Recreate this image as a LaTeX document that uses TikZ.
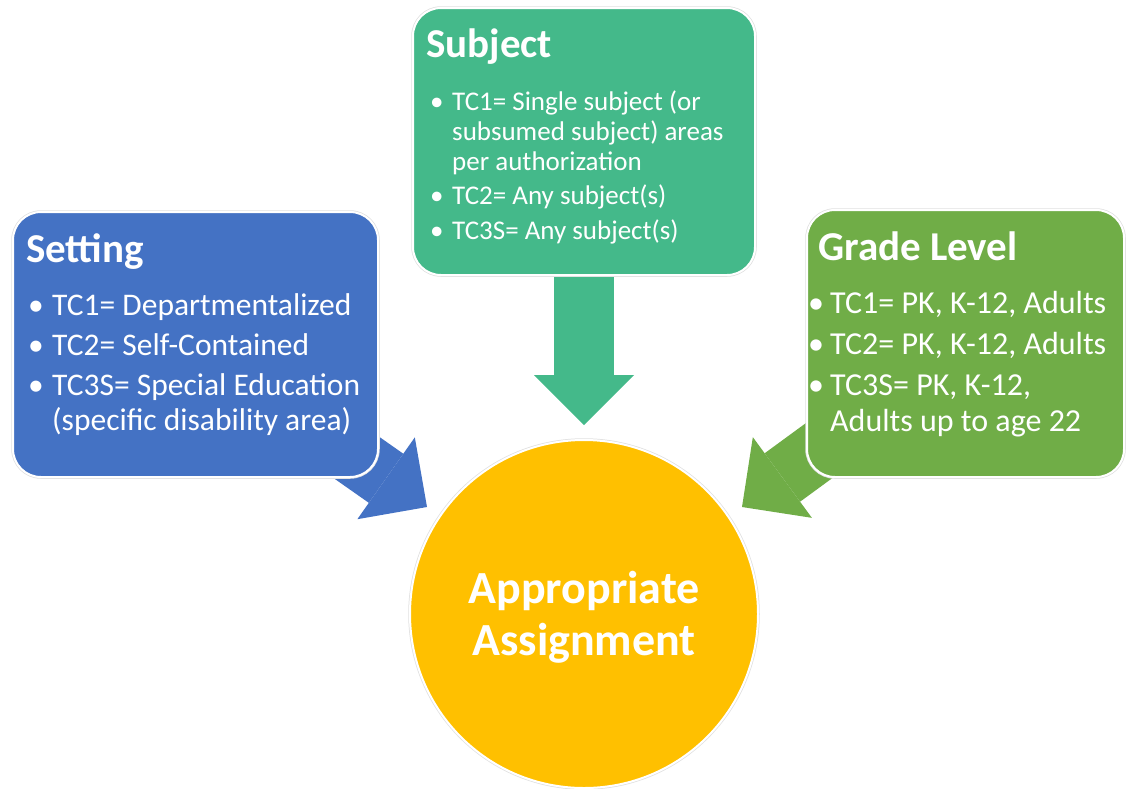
\documentclass[tikz,border=0pt]{standalone}
\usepackage{fontspec}
\setmainfont{Carlito}
\usetikzlibrary{arrows.meta,backgrounds}
\definecolor{cblue}{HTML}{4472C4}
\definecolor{cteal}{HTML}{44B98A}
\definecolor{cgreen}{HTML}{70AD47}
\definecolor{cyellow}{HTML}{FFC000}
\newlength{\bulind}
\newlength{\bulgap}
\newcommand{\bitem}[1]{\par\noindent\setlength{\parskip}{\bulgap}\hangindent=\bulind\hangafter=1\makebox[\bulind][l]{\textbullet}#1}
\tikzset{
  box/.style={rectangle, rounded corners=28pt, draw=white, line width=2pt,
    preaction={draw=black!12, line width=3.5pt}, inner sep=0pt},
  goalstyle/.style={circle, fill=cyellow, draw=white, line width=2pt,
    preaction={draw=black!12, line width=3.5pt}, inner sep=0pt},
  txt/.style={inner sep=0pt, text=white},
  title/.style={txt, anchor=base west, font=\fontsize{41}{49}\selectfont\bfseries},
  list/.style={txt, anchor=base west},
  block/.style={line width=60pt, -{Triangle[width=100pt,length=50pt,line width=0pt]}}
}
\begin{document}
\begin{tikzpicture}[x=1pt,y=-1pt]
\useasboundingbox (0,0) rectangle (1126,788);
% boxes
\node[box, fill=cblue, minimum width=365pt, minimum height=265pt] (setting) at (195.5,344.5) {};
\node[box, fill=cteal, minimum width=342pt, minimum height=267pt] (subject) at (584,141.5) {};
\node[box, fill=cgreen, minimum width=317pt, minimum height=267pt] (grade) at (965.5,343.5) {};
\node[goalstyle, minimum size=348pt] (goal) at (584,614) {};
% tips
\coordinate (tipA) at (427,507);
\coordinate (tipB) at (584,425);
\coordinate (tipC) at (742,507);
\begin{pgfonlayer}{background}
\draw[block, cblue] (setting.center) -- (tipA);
\draw[block, cteal] (subject.center) -- (tipB);
\draw[block, cgreen] (grade.center) -- (tipC);
\end{pgfonlayer}
% texts
\node[title] (settingT) at (26,262) {Setting};
\node[list] (settingL) at (28,315) {\parbox[t]{420pt}{\fontsize{31.5}{35}\selectfont\setlength{\bulind}{24pt}\setlength{\bulgap}{5pt}%
\bitem{TC1= Departmentalized}
\bitem{TC2= Self-Contained}
\bitem{TC3S= Special Education\\(specific disability area)}}};
\node[title] (subjectT) at (426,57) {Subject};
\node[list] (subjectL) at (430,110) {\parbox[t]{420pt}{\fontsize{27}{30}\selectfont\setlength{\bulind}{22pt}\setlength{\bulgap}{4.5pt}%
\bitem{TC1= Single subject (or\\subsumed subject) areas\\per authorization}
\bitem{TC2= Any subject(s)}
\bitem{TC3S= Any subject(s)}}};
\node[title] (gradeT) at (818,260) {Grade Level};
\node[list] (gradeL) at (808,313) {\parbox[t]{420pt}{\fontsize{32}{36}\selectfont\setlength{\bulind}{22pt}\setlength{\bulgap}{5pt}%
\bitem{TC1= PK, K-12, Adults}
\bitem{TC2= PK, K-12, Adults}
\bitem{TC3S= PK, K-12,\\Adults up to age 22}}};
\node[txt, anchor=base] (goalT) at (584,603) {\parbox[t]{340pt}{\centering\fontsize{46}{52}\selectfont\bfseries Appropriate\\Assignment}};
\end{tikzpicture}
\end{document}
